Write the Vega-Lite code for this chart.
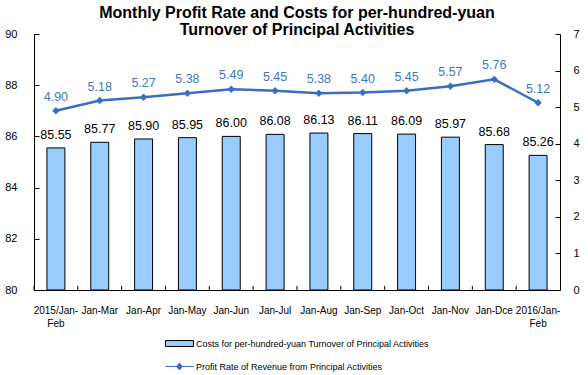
{
  "$schema": "https://vega.github.io/schema/vega-lite/v6.json",
  "width": 526,
  "height": 256,
  "autosize": {"type": "none"},
  "padding": {"left": 34, "top": 34, "right": 28, "bottom": 85},
  "background": "white",
  "config": {
    "view": {"stroke": null},
    "font": "Liberation Sans",
    "axis": {
      "domainColor": "black",
      "tickColor": "black",
      "labelColor": "black",
      "labelFont": "Liberation Sans",
      "labelFontSize": 11,
      "grid": false,
      "title": null,
      "ticks": true,
      "labelOverlap": false
    },
    "legend": {
      "labelFont": "Liberation Sans",
      "labelFontSize": 9,
      "labelColor": "black",
      "labelLimit": 0,
      "padding": 0,
      "titlePadding": 0
    }
  },
  "title": {
    "text": ["Monthly Profit Rate and Costs for per-hundred-yuan", "Turnover of Principal Activities"],
    "font": "Liberation Sans",
    "fontSize": 16,
    "fontWeight": "bold",
    "lineHeight": 17,
    "anchor": "middle",
    "color": "black",
    "offset": -10
  },
  "data": {
    "values": [
      {"period": "2015/Jan-Feb", "cost": 85.55, "profit": 4.90},
      {"period": "Jan-Mar", "cost": 85.77, "profit": 5.18},
      {"period": "Jan-Apr", "cost": 85.90, "profit": 5.27},
      {"period": "Jan-May", "cost": 85.95, "profit": 5.38},
      {"period": "Jan-Jun", "cost": 86.00, "profit": 5.49},
      {"period": "Jan-Jul", "cost": 86.08, "profit": 5.45},
      {"period": "Jan-Aug", "cost": 86.13, "profit": 5.38},
      {"period": "Jan-Sep", "cost": 86.11, "profit": 5.40},
      {"period": "Jan-Oct", "cost": 86.09, "profit": 5.45},
      {"period": "Jan-Nov", "cost": 85.97, "profit": 5.57},
      {"period": "Jan-Dce", "cost": 85.68, "profit": 5.76},
      {"period": "2016/Jan-Feb", "cost": 85.26, "profit": 5.12}
    ]
  },
  "encoding": {
    "x": {
      "field": "period",
      "type": "nominal",
      "sort": null,
      "scale": {"paddingInner": 0.59, "paddingOuter": 0.295},
      "axis": {
        "title": null,
        "labelAngle": 0,
        "ticks": false,
        "labelPadding": 15,
        "labelFontSize": 10,
        "labelBaseline": "top",
        "labelExpr": "datum.label == '2015/Jan-Feb' ? ['2015/Jan-', 'Feb'] : datum.label == '2016/Jan-Feb' ? ['2016/Jan-', 'Feb'] : datum.label",
        "labelLineHeight": 13
      }
    }
  },
  "layer": [
    {
      "layer": [
        {
          "mark": {"type": "bar", "stroke": "black", "strokeWidth": 1},
          "encoding": {
            "y": {
              "field": "cost",
              "type": "quantitative",
              "scale": {"domain": [80, 90], "zero": false, "nice": false},
              "axis": {"orient": "left", "values": [80, 82, 84, 86, 88, 90], "ticks": true, "tickSize": -5, "labelPadding": 22, "title": null}
            },
            "y2": {"datum": 80},
            "fill": {
              "datum": "Costs for per-hundred-yuan Turnover of Principal Activities",
              "type": "nominal",
              "scale": {"range": ["#99CCFF"]},
              "legend": {
                "orient": "none",
                "legendX": 131,
                "legendY": 295,
                "title": null,
                "symbolType": "M-1,-0.2143L1,-0.2143L1,0.2143L-1,0.2143Z",
                "symbolSize": 784,
                "symbolStrokeColor": "black",
                "symbolStrokeWidth": 1,
                "labelOffset": 2
              }
            }
          }
        },
        {
          "mark": {"type": "rule", "color": "black", "strokeWidth": 1},
          "encoding": {
            "x": {"field": "period", "type": "nominal", "sort": null, "bandPosition": -0.7195},
            "y": {"datum": 80, "type": "quantitative"},
            "y2": {"datum": 80.16}
          }
        },
        {
          "mark": {"type": "text", "baseline": "alphabetic", "dy": -9, "fontSize": 12.5, "color": "black"},
          "encoding": {
            "y": {"field": "cost", "type": "quantitative", "axis": {"orient": "left", "values": [80, 82, 84, 86, 88, 90], "ticks": true, "tickSize": -5, "labelPadding": 22, "title": null}},
            "text": {"field": "cost", "type": "quantitative", "format": ".2f"}
          }
        }
      ]
    },
    {
      "layer": [
        {
          "mark": {"type": "line", "strokeWidth": 2.5},
          "encoding": {
            "y": {
              "field": "profit",
              "type": "quantitative",
              "scale": {"domain": [0, 7], "nice": false},
              "axis": {"orient": "right", "values": [0, 1, 2, 3, 4, 5, 6, 7], "ticks": true, "tickSize": -5, "labelPadding": 18, "title": null}
            },
            "color": {
              "datum": "Profit Rate of Revenue from Principal Activities",
              "type": "nominal",
              "scale": {"range": ["#3B6FBE"]},
              "legend": {
                "orient": "none",
                "legendX": 131,
                "legendY": 318,
                "title": null,
                "symbolType": "M-1,0L1,0M-0.2,0L0,-0.25L0.2,0L0,0.25Z",
                "symbolSize": 784,
                "symbolStrokeWidth": 1,
                "labelOffset": 2,
                "symbolFillColor": "#3B6FBE"
              }
            }
          }
        },
        {
          "mark": {"type": "point", "shape": "diamond", "size": 55, "filled": true, "color": "#3B6FBE", "opacity": 1},
          "encoding": {
            "y": {"field": "profit", "type": "quantitative", "axis": {"orient": "right", "values": [0, 1, 2, 3, 4, 5, 6, 7], "ticks": true, "tickSize": -5, "labelPadding": 18, "title": null}}
          }
        },
        {
          "mark": {"type": "text", "baseline": "alphabetic", "dy": -10, "fontSize": 12.5, "color": "#3F76C4"},
          "encoding": {
            "y": {"field": "profit", "type": "quantitative", "axis": {"orient": "right", "values": [0, 1, 2, 3, 4, 5, 6, 7], "ticks": true, "tickSize": -5, "labelPadding": 18, "title": null}},
            "text": {"field": "profit", "type": "quantitative", "format": ".2f"}
          }
        }
      ]
    }
  ],
  "resolve": {"scale": {"y": "independent"}}
}
